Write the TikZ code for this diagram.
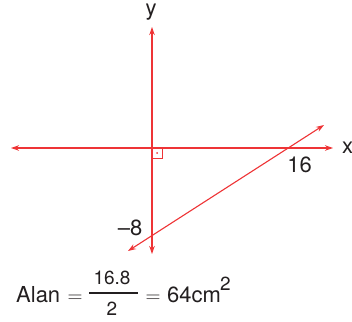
\documentclass[tikz,border=0pt]{standalone}
\usepackage{fontspec}
\setmainfont{TeX Gyre Heros}
\usetikzlibrary{arrows.meta}
\definecolor{axred}{RGB}{238,52,54}
\definecolor{ink}{RGB}{35,31,32}
\begin{document}
\begin{tikzpicture}[x=1pt,y=-1pt,
  ax/.style={draw=axred, line width=1.1pt, {Stealth[length=8pt,width=5.5pt]}-{Stealth[length=8pt,width=5.5pt]}},
  lbl/.style={font=\fontsize{22}{24}\selectfont, inner sep=0pt, text=ink},
  small/.style={font=\fontsize{19}{21}\selectfont, inner sep=0pt, text=ink}]
\useasboundingbox (0,0) rectangle (352,321);
\coordinate (yt) at (152,27);
\coordinate (yb) at (152,254);
\coordinate (xl) at (11,148);
\coordinate (xr) at (333,148);
\coordinate (la) at (128,251);
\coordinate (lb) at (324,125);
\coordinate (o) at (152,148);
\coordinate (sq) at (162,158);
\coordinate (dot) at (157,153);
\draw[ax] (yb) -- (yt);
\draw[ax] (xl) -- (xr);
\draw[ax] (la) -- (lb);
\draw[axred, line width=0.8pt] (o) rectangle (sq);
\fill[axred] (dot) circle (1);
\node[lbl, anchor=base] (ylab) at (151,16) {y};
\node[lbl, anchor=base west] (xlab) at (342,153) {x};
\node[lbl, anchor=base] (n16) at (299.5,172) {16};
\node[lbl, anchor=base] (n8) at (130,235) {\textendash8};
% equation
\node[lbl, anchor=base west] (alan) at (16,302) {Alan};
\node[lbl, anchor=base] (eq1) at (75,302) {$=$};
\node[small, anchor=base] (num) at (112,284) {16.8};
\node[small, anchor=base] (den) at (112,315) {2};
\coordinate (bl) at (89,293);
\coordinate (br) at (138,293);
\draw[ink, line width=1.3pt] (bl) -- (br);
\node[lbl, anchor=base] (eq2) at (153,302) {$=$};
\node[lbl, anchor=base west] (res) at (167,302) {64cm};
\node[small, anchor=base west] (sup) at (220,290) {2};
\end{tikzpicture}
\end{document}
